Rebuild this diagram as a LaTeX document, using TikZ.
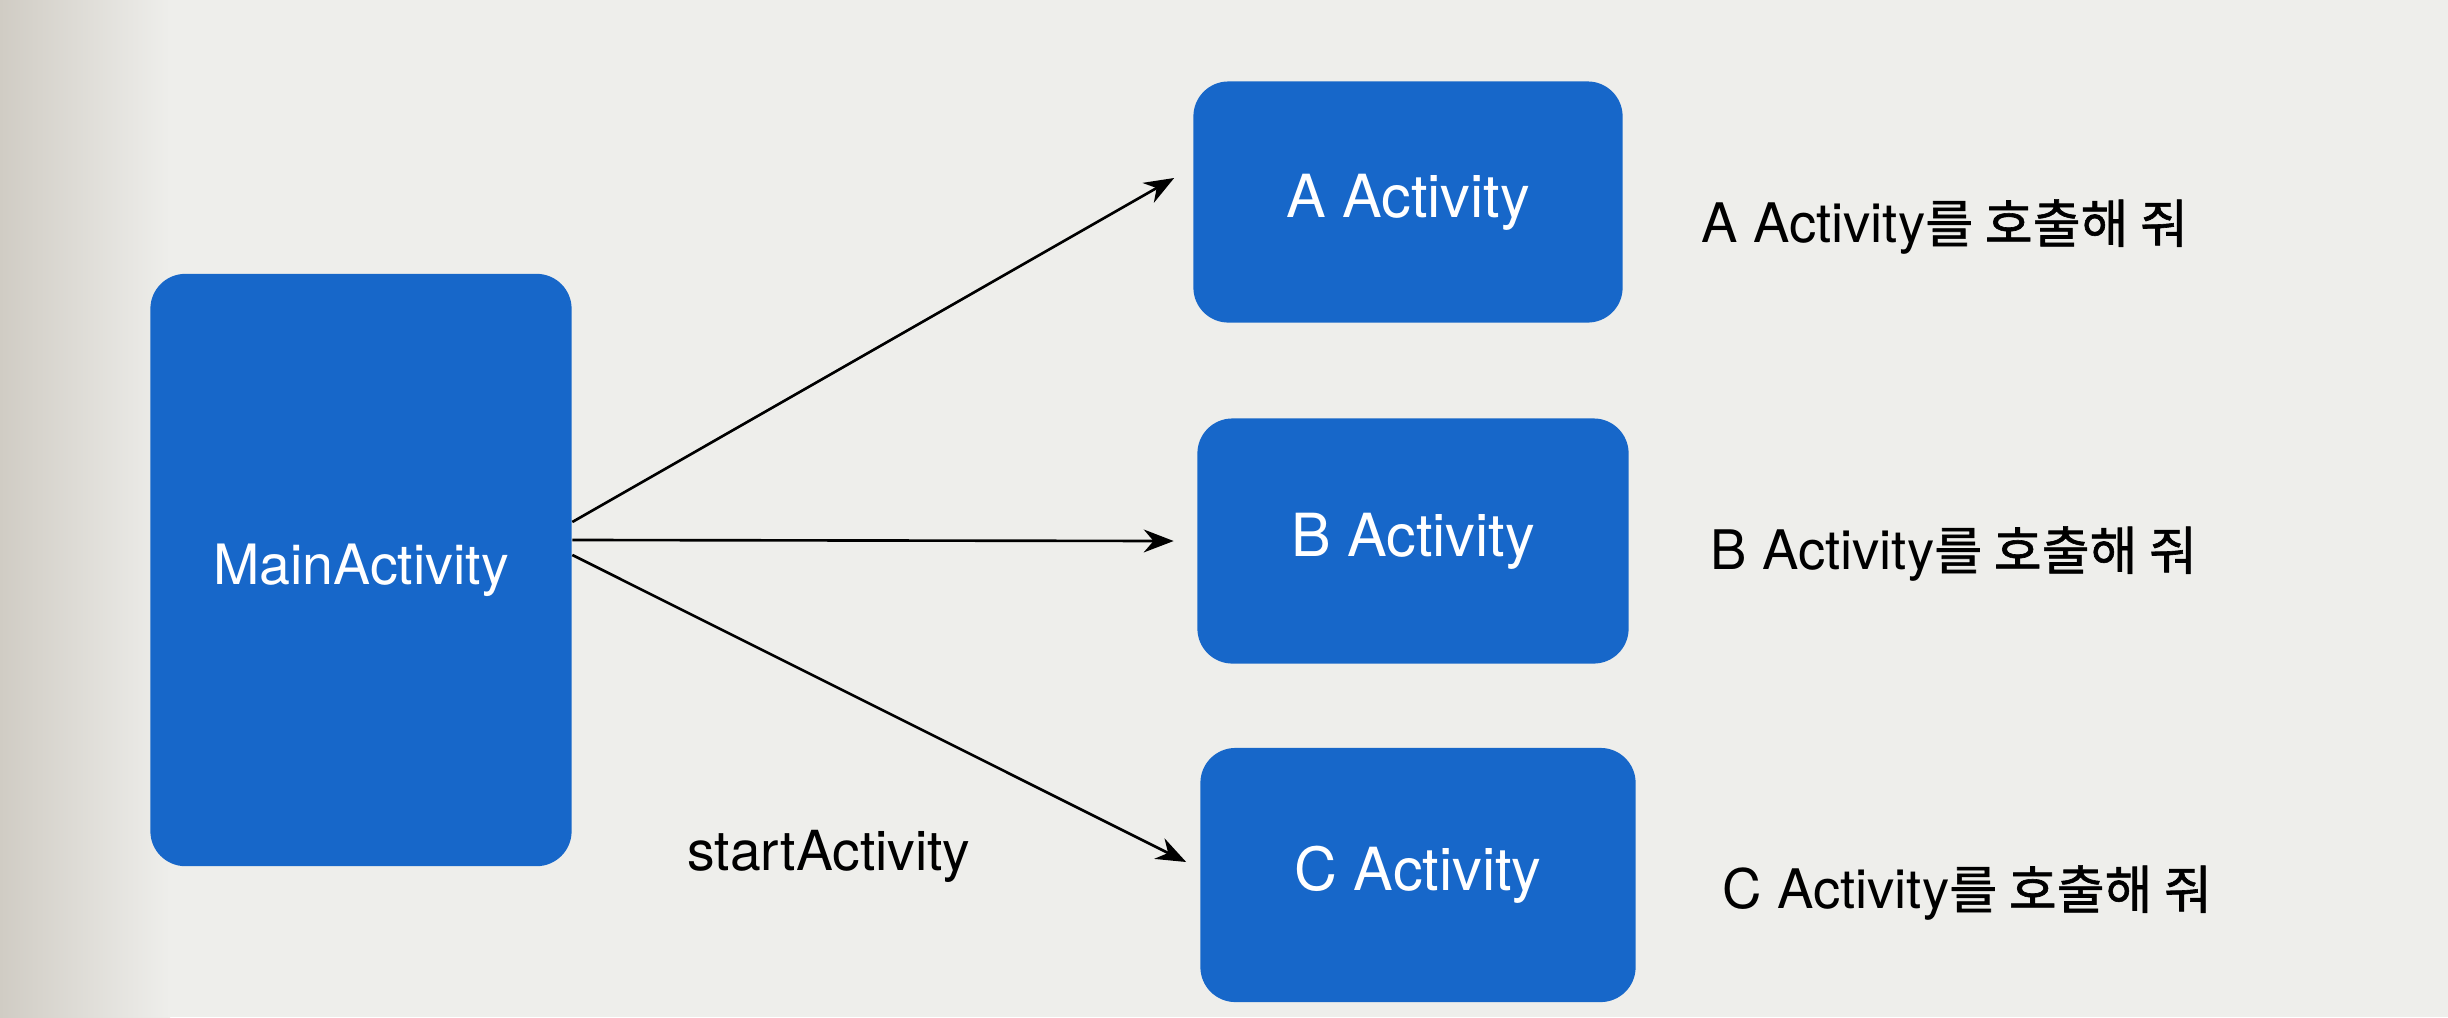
\documentclass[tikz,border=0pt]{standalone}
\usepackage{fontspec}
\setmainfont{TeX Gyre Heros}
\newfontfamily\kr[FakeBold=1.2]{Noto Sans CJK KR}
\usetikzlibrary{arrows.meta}
\definecolor{boxblue}{RGB}{23,103,201}
\definecolor{paper}{RGB}{238,238,235}
\definecolor{fold}{RGB}{208,204,196}
\newcommand{\krlabel}[1]{{\kr\fontsize{14.8}{18}\selectfont #1}}
\begin{document}
\begin{tikzpicture}[x=0.01cm,y=-0.01cm,
  actbox/.style={fill=boxblue, rounded corners=0.35cm, text=white, inner sep=0pt,
                 font=\fontsize{16.9}{20}\selectfont},
  lbl/.style={font=\fontsize{15.5}{18}\selectfont, text=black, inner sep=0pt, anchor=west},
  arr/.style={-{Stealth[length=8.5pt,width=6.5pt]}, line width=0.75pt, black}]
\useasboundingbox (0,0) rectangle (2448,1017);
\fill[paper] (0,0) rectangle (2448,1017);
\shade[left color=fold, right color=paper] (0,0) rectangle (170,1017);

\node[actbox, minimum width=4.21cm, minimum height=5.92cm,
      font=\fontsize{15.8}{19}\selectfont] (main) at (361,570) {MainActivity};
\node[actbox, minimum width=4.29cm, minimum height=2.41cm] (a) at (1408,202) {A Activity};
\node[actbox, minimum width=4.31cm, minimum height=2.45cm] (b) at (1413,541) {B Activity};
\node[actbox, minimum width=4.35cm, minimum height=2.54cm] (c) at (1418,875) {C Activity};

\node[lbl] (la) at (1701,227) {A Activity\krlabel{를 호출해 줘}};
\node[lbl] (lb) at (1710,554) {B Activity\krlabel{를 호출해 줘}};
\node[lbl] (lc) at (1722,893) {C Activity\krlabel{를 호출해 줘}};

\node[font=\fontsize{15.7}{19}\selectfont, inner sep=0pt] (start) at (829,856) {startActivity};

\draw[arr] ([yshift=0.48cm]main.east) -- ([xshift=-0.185cm,yshift=0.24cm]a.west);
\draw[arr] ([yshift=0.30cm]main.east) -- ([xshift=-0.23cm]b.west);
\draw[arr] ([yshift=0.15cm]main.east) -- ([xshift=-0.135cm,yshift=0.13cm]c.west);
\end{tikzpicture}
\end{document}
